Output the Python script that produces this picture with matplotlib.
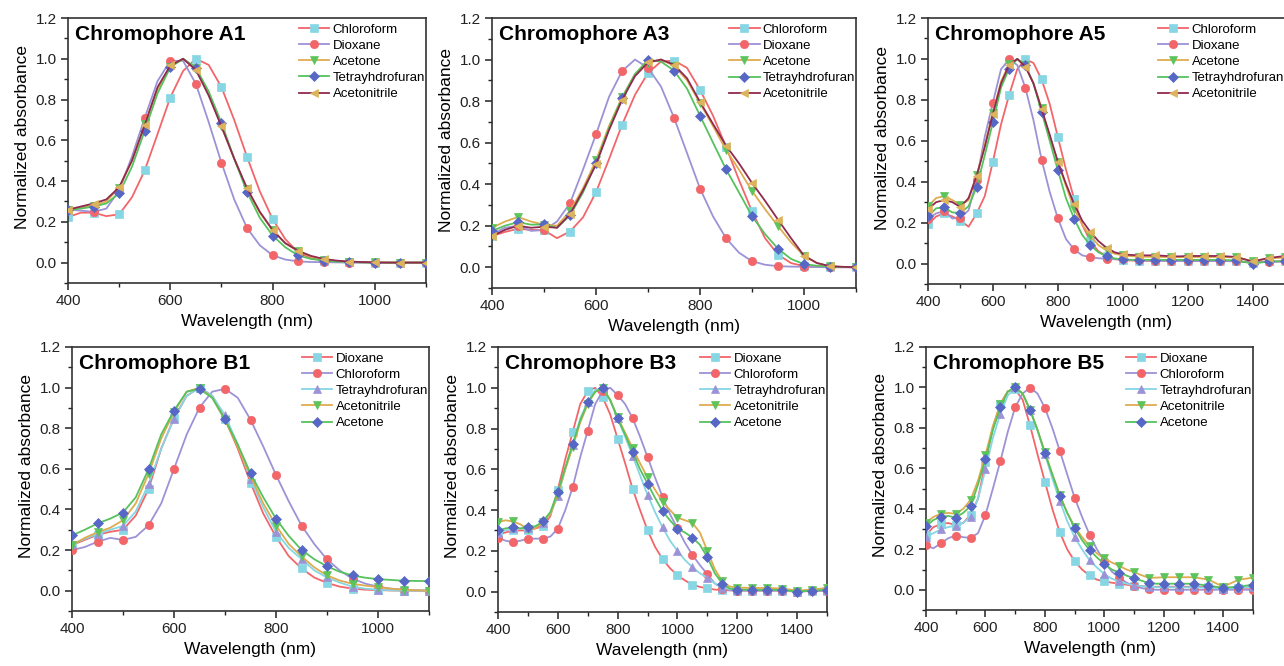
import matplotlib
matplotlib.use("Agg")
import matplotlib.pyplot as plt
from matplotlib.ticker import MultipleLocator

plt.rcParams['font.family'] = ['Liberation Sans', 'DejaVu Sans']

# ---------------- wavelength grids ----------------
wl_narrow = list(range(400, 1101, 25))                      # 29 points
wl_wide = list(range(400, 1201, 25)) + [1250, 1300, 1350, 1400, 1450, 1500]  # 39 points

# ---------------- Chromophore A1 ----------------
a1_chloroform = [0.223, 0.245, 0.245, 0.228, 0.237, 0.32, 0.452, 0.63, 0.81, 0.94, 1.0, 0.97, 0.861, 0.70,
                 0.519, 0.35, 0.214, 0.115, 0.05, 0.022, 0.01, 0.005, 0.003, 0.001, 0, 0, 0, 0, 0]
a1_dioxane = [0.26, 0.255, 0.249, 0.265, 0.355, 0.52, 0.71, 0.89, 0.99, 0.99, 0.877, 0.69, 0.49, 0.31,
              0.17, 0.085, 0.036, 0.015, 0.006, 0.003, 0.002, 0.001, 0, 0, 0, 0, 0, 0, 0]
a1_acetone = [0.26, 0.27, 0.28, 0.30, 0.368, 0.50, 0.68, 0.85, 0.96, 1.0, 0.955, 0.83, 0.67, 0.51,
              0.36, 0.245, 0.16, 0.095, 0.055, 0.03, 0.015, 0.008, 0.005, 0.002, 0.001, 0, 0, 0, 0]
a1_thf = [0.26, 0.265, 0.275, 0.29, 0.34, 0.47, 0.647, 0.83, 0.958, 1.0, 0.955, 0.84, 0.686, 0.51,
          0.347, 0.22, 0.133, 0.075, 0.035, 0.018, 0.01, 0.005, 0.003, 0.001, 0, 0, 0, 0, 0]
a1_acetonitrile = [0.26, 0.275, 0.29, 0.31, 0.37, 0.50, 0.675, 0.86, 0.967, 1.0, 0.945, 0.82, 0.668, 0.51,
                   0.365, 0.25, 0.16, 0.095, 0.058, 0.033, 0.018, 0.01, 0.005, 0.003, 0.001, 0, 0, 0, 0]

# ---------------- Chromophore A3 ----------------
a3_chloroform = [0.15, 0.17, 0.185, 0.18, 0.178, 0.14, 0.172, 0.24, 0.361, 0.52, 0.685, 0.83, 0.936, 0.99,
                 0.995, 0.96, 0.854, 0.73, 0.58, 0.42, 0.269, 0.14, 0.061, 0.02, 0.005, 0.002, 0, 0, 0]
a3_dioxane = [0.16, 0.19, 0.20, 0.175, 0.179, 0.22, 0.308, 0.47, 0.64, 0.82, 0.944, 1.0, 0.96, 0.87,
              0.72, 0.55, 0.379, 0.245, 0.14, 0.07, 0.029, 0.012, 0.005, 0.003, 0.002, 0.001, 0, 0, 0]
a3_acetone = [0.19, 0.22, 0.242, 0.22, 0.205, 0.20, 0.27, 0.38, 0.515, 0.68, 0.818, 0.93, 0.985, 1.0,
              0.97, 0.90, 0.79, 0.68, 0.565, 0.47, 0.367, 0.28, 0.198, 0.12, 0.055, 0.02, 0.005, 0.001, 0]
a3_thf = [0.175, 0.20, 0.217, 0.205, 0.206, 0.19, 0.25, 0.36, 0.50, 0.67, 0.815, 0.93, 0.999, 0.99,
          0.947, 0.86, 0.73, 0.60, 0.472, 0.36, 0.246, 0.16, 0.089, 0.04, 0.015, 0.007, 0.003, 0.001, 0]
a3_acetonitrile = [0.15, 0.18, 0.20, 0.19, 0.195, 0.19, 0.255, 0.37, 0.495, 0.66, 0.805, 0.92, 0.986, 1.0,
                   0.975, 0.91, 0.796, 0.69, 0.586, 0.50, 0.406, 0.32, 0.229, 0.14, 0.056, 0.02, 0.005, 0.002, 0]

# ---------------- Chromophore A5 ----------------
a5_chloroform = [0.191, 0.23, 0.245, 0.23, 0.21, 0.18, 0.245, 0.33, 0.498, 0.68, 0.824, 0.95, 0.999, 0.98,
                 0.90, 0.78, 0.619, 0.46, 0.317, 0.19, 0.11, 0.06, 0.035, 0.022, 0.016, 0.015, 0.013,
                 0.013, 0.013, 0.013, 0.013, 0.013, 0.013, 0.013, 0.013, 0.012, 0.005, 0.01, 0.01]
a5_dioxane = [0.22, 0.245, 0.256, 0.22, 0.225, 0.26, 0.41, 0.62, 0.787, 0.95, 0.998, 0.97, 0.859, 0.70,
              0.508, 0.35, 0.222, 0.12, 0.069, 0.04, 0.031, 0.026, 0.023, 0.021, 0.02, 0.018, 0.016,
              0.015, 0.014, 0.013, 0.012, 0.012, 0.012, 0.012, 0.012, 0.011, 0.005, 0.008, 0.01]
a5_acetone = [0.28, 0.32, 0.33, 0.31, 0.286, 0.31, 0.431, 0.58, 0.738, 0.89, 0.973, 1.0, 0.97, 0.88,
              0.76, 0.62, 0.496, 0.38, 0.268, 0.19, 0.136, 0.09, 0.064, 0.048, 0.04, 0.036, 0.034,
              0.033, 0.033, 0.032, 0.032, 0.032, 0.032, 0.032, 0.032, 0.03, 0.012, 0.025, 0.03]
a5_thf = [0.23, 0.27, 0.274, 0.25, 0.247, 0.28, 0.374, 0.53, 0.69, 0.86, 0.953, 1.0, 0.97, 0.88,
          0.741, 0.60, 0.457, 0.32, 0.22, 0.14, 0.09, 0.055, 0.036, 0.025, 0.02, 0.018, 0.018,
          0.018, 0.018, 0.018, 0.018, 0.018, 0.018, 0.018, 0.018, 0.015, 0.0, 0.01, 0.012]
a5_acetonitrile = [0.265, 0.30, 0.31, 0.30, 0.276, 0.32, 0.429, 0.57, 0.733, 0.88, 0.971, 1.0, 0.962, 0.88,
                   0.754, 0.63, 0.498, 0.39, 0.292, 0.21, 0.155, 0.11, 0.077, 0.055, 0.045, 0.042, 0.04,
                   0.04, 0.04, 0.038, 0.035, 0.035, 0.037, 0.037, 0.037, 0.032, 0.01, 0.027, 0.037]

# ---------------- Chromophore B1 ----------------
b1_dioxane = [0.225, 0.25, 0.275, 0.29, 0.30, 0.37, 0.50, 0.70, 0.85, 0.96, 1.0, 0.96, 0.845, 0.70,
              0.532, 0.38, 0.265, 0.17, 0.11, 0.065, 0.038, 0.02, 0.01, 0.005, 0.003, 0.001, 0, 0, 0]
b1_chloroform = [0.20, 0.215, 0.241, 0.26, 0.25, 0.265, 0.322, 0.43, 0.60, 0.77, 0.902, 0.98, 0.994, 0.95,
                 0.842, 0.71, 0.57, 0.44, 0.321, 0.23, 0.154, 0.10, 0.059, 0.035, 0.02, 0.01, 0.005, 0.002, 0]
b1_thf = [0.23, 0.255, 0.28, 0.30, 0.319, 0.39, 0.524, 0.70, 0.846, 0.96, 1.0, 0.96, 0.864, 0.72,
          0.55, 0.41, 0.29, 0.21, 0.156, 0.10, 0.065, 0.04, 0.02, 0.01, 0.005, 0.002, 0, 0, 0]
b1_acetonitrile = [0.225, 0.26, 0.288, 0.31, 0.347, 0.43, 0.575, 0.75, 0.88, 0.98, 1.0, 0.95, 0.84, 0.71,
                   0.565, 0.43, 0.321, 0.23, 0.169, 0.115, 0.075, 0.05, 0.034, 0.025, 0.018, 0.01, 0.005, 0.002, 0]
b1_acetone = [0.272, 0.30, 0.331, 0.355, 0.385, 0.46, 0.598, 0.77, 0.887, 0.98, 0.994, 0.95, 0.843, 0.72,
              0.578, 0.46, 0.354, 0.27, 0.201, 0.155, 0.12, 0.093, 0.075, 0.064, 0.057, 0.053, 0.049, 0.048, 0.047]

# ---------------- Chromophore B3 ----------------
b3_dioxane = [0.28, 0.29, 0.30, 0.30, 0.30, 0.31, 0.32, 0.37, 0.50, 0.65, 0.784, 0.92, 0.984, 1.0,
              0.953, 0.87, 0.75, 0.63, 0.504, 0.40, 0.301, 0.22, 0.16, 0.115, 0.08, 0.055, 0.034,
              0.023, 0.016, 0.01, 0.008, 0.006, 0.005, 0.005, 0.005, 0.005, 0.0, 0.004, 0.005]
b3_chloroform = [0.264, 0.25, 0.242, 0.25, 0.259, 0.26, 0.26, 0.27, 0.309, 0.40, 0.514, 0.66, 0.789, 0.92,
                 0.985, 1.0, 0.964, 0.92, 0.851, 0.76, 0.66, 0.56, 0.465, 0.38, 0.31, 0.24, 0.18,
                 0.13, 0.085, 0.04, 0.015, 0.007, 0.005, 0.005, 0.005, 0.005, 0.0, 0.003, 0.005]
b3_thf = [0.29, 0.30, 0.31, 0.31, 0.31, 0.32, 0.335, 0.38, 0.467, 0.60, 0.72, 0.85, 0.93, 0.99,
          1.0, 0.94, 0.85, 0.76, 0.666, 0.57, 0.475, 0.39, 0.316, 0.25, 0.20, 0.155, 0.12,
          0.09, 0.069, 0.04, 0.02, 0.012, 0.01, 0.01, 0.01, 0.008, 0.0, 0.006, 0.01]
b3_acetonitrile = [0.34, 0.35, 0.344, 0.33, 0.305, 0.31, 0.34, 0.38, 0.48, 0.60, 0.711, 0.83, 0.92, 0.98,
                   1.0, 0.94, 0.855, 0.78, 0.704, 0.63, 0.56, 0.50, 0.442, 0.40, 0.363, 0.35, 0.337,
                   0.29, 0.20, 0.11, 0.05, 0.025, 0.02, 0.018, 0.018, 0.015, 0.005, 0.01, 0.018]
b3_acetone = [0.30, 0.31, 0.316, 0.31, 0.316, 0.32, 0.345, 0.39, 0.49, 0.61, 0.725, 0.84, 0.928, 0.98,
              0.999, 0.94, 0.85, 0.77, 0.684, 0.60, 0.53, 0.46, 0.395, 0.35, 0.309, 0.29, 0.265,
              0.23, 0.169, 0.09, 0.039, 0.015, 0.01, 0.008, 0.008, 0.008, 0.0, 0.005, 0.008]

# ---------------- Chromophore B5 ----------------
b5_dioxane = [0.27, 0.31, 0.324, 0.33, 0.32, 0.33, 0.37, 0.45, 0.63, 0.80, 0.92, 0.98, 0.99, 0.94,
              0.812, 0.67, 0.534, 0.40, 0.284, 0.20, 0.141, 0.10, 0.071, 0.05, 0.041, 0.035, 0.03,
              0.025, 0.02, 0.018, 0.015, 0.015, 0.015, 0.015, 0.015, 0.013, 0.005, 0.01, 0.01]
b5_chloroform = [0.219, 0.205, 0.23, 0.255, 0.268, 0.26, 0.256, 0.28, 0.37, 0.50, 0.635, 0.78, 0.902, 0.97,
                 0.999, 0.97, 0.899, 0.80, 0.687, 0.57, 0.455, 0.36, 0.273, 0.20, 0.14, 0.09, 0.06,
                 0.035, 0.02, 0.008, 0.002, 0.0, 0.0, 0.0, 0.0, 0.0, 0.0, 0.0, 0.0]
b5_thf = [0.26, 0.28, 0.298, 0.31, 0.317, 0.33, 0.362, 0.45, 0.595, 0.75, 0.87, 0.96, 1.0, 0.97,
          0.89, 0.79, 0.67, 0.55, 0.44, 0.34, 0.26, 0.20, 0.146, 0.11, 0.077, 0.055, 0.041,
          0.03, 0.022, 0.018, 0.015, 0.013, 0.012, 0.012, 0.012, 0.01, 0.005, 0.01, 0.015]
b5_acetonitrile = [0.332, 0.36, 0.376, 0.38, 0.375, 0.40, 0.444, 0.54, 0.666, 0.81, 0.917, 0.98, 1.0, 0.97,
                   0.89, 0.79, 0.68, 0.57, 0.47, 0.38, 0.311, 0.26, 0.217, 0.18, 0.155, 0.135, 0.118,
                   0.10, 0.087, 0.072, 0.059, 0.06, 0.062, 0.062, 0.062, 0.05, 0.015, 0.049, 0.06]
b5_acetone = [0.314, 0.345, 0.36, 0.365, 0.357, 0.38, 0.414, 0.52, 0.646, 0.79, 0.901, 0.98, 1.0, 0.97,
              0.889, 0.79, 0.676, 0.57, 0.465, 0.38, 0.306, 0.245, 0.197, 0.16, 0.127, 0.10, 0.085,
              0.07, 0.056, 0.045, 0.033, 0.03, 0.03, 0.03, 0.03, 0.02, 0.01, 0.015, 0.025]

# ---------------- styles (line colour, marker, marker colour) ----------------
RED = '#f2666a'
CYAN = '#86d6e4'
PURPLE = '#9c92d6'
GOLD = '#dfab4f'
GREEN = '#56c25e'
GREEN_M = '#5cc45a'
BLUE = '#5767c6'
MAROON = '#8f2a50'
GOLD_M = '#ddb45c'

styleA = {
    'Chloroform': (RED, 's', CYAN),
    'Dioxane': (PURPLE, 'o', RED),
    'Acetone': (GOLD, 'v', GREEN_M),
    'Tetrayhdrofuran': (GREEN, 'D', BLUE),
    'Acetonitrile': (MAROON, '<', GOLD_M),
}
styleB = {
    'Dioxane': (RED, 's', CYAN),
    'Chloroform': (PURPLE, 'o', RED),
    'Tetrayhdrofuran': (CYAN, '^', PURPLE),
    'Acetonitrile': (GOLD, 'v', GREEN_M),
    'Acetone': (GREEN, 'D', BLUE),
}

W, H = 1284, 666


def box(l, r, t, b):
    return [l / W, (H - b) / H, (r - l) / W, (b - t) / H]


panels = [
    ('Chromophore A1', box(68, 426, 18, 283), wl_narrow, 1100, styleA,
     [('Chloroform', a1_chloroform), ('Dioxane', a1_dioxane), ('Acetone', a1_acetone),
      ('Tetrayhdrofuran', a1_thf), ('Acetonitrile', a1_acetonitrile)]),
    ('Chromophore A3', box(492, 856, 18, 288), wl_narrow, 1100, styleA,
     [('Chloroform', a3_chloroform), ('Dioxane', a3_dioxane), ('Acetone', a3_acetone),
      ('Tetrayhdrofuran', a3_thf), ('Acetonitrile', a3_acetonitrile)]),
    ('Chromophore A5', box(928, 1285, 18, 284), wl_wide, 1500, styleA,
     [('Chloroform', a5_chloroform), ('Dioxane', a5_dioxane), ('Acetone', a5_acetone),
      ('Tetrayhdrofuran', a5_thf), ('Acetonitrile', a5_acetonitrile)]),
    ('Chromophore B1', box(72, 429, 347, 611), wl_narrow, 1100, styleB,
     [('Dioxane', b1_dioxane), ('Chloroform', b1_chloroform), ('Tetrayhdrofuran', b1_thf),
      ('Acetonitrile', b1_acetonitrile), ('Acetone', b1_acetone)]),
    ('Chromophore B3', box(498, 827, 347, 612), wl_wide, 1500, styleB,
     [('Dioxane', b3_dioxane), ('Chloroform', b3_chloroform), ('Tetrayhdrofuran', b3_thf),
      ('Acetonitrile', b3_acetonitrile), ('Acetone', b3_acetone)]),
    ('Chromophore B5', box(926, 1253, 347, 610), wl_wide, 1500, styleB,
     [('Dioxane', b5_dioxane), ('Chloroform', b5_chloroform), ('Tetrayhdrofuran', b5_thf),
      ('Acetonitrile', b5_acetonitrile), ('Acetone', b5_acetone)]),
]

fig = plt.figure(figsize=(W / 100, H / 100), dpi=100)

for title, rect, wl, xmax, style, series in panels:
    ax = fig.add_axes(rect)
    marks = [i for i, w in enumerate(wl) if w % 50 == 0]
    for k, (name, vals) in enumerate(series):
        lc, mk, mc = style[name]
        ms = 5.2 if mk == 'D' else 6.0
        ax.plot(wl, vals, color=lc, lw=1.3, marker=mk, markersize=ms,
                markerfacecolor=mc, markeredgecolor=mc, markeredgewidth=0.5,
                markevery=marks, label=name, zorder=2 + k)
    ax.set_xlim(400, xmax)
    ax.set_ylim(-0.1, 1.2)
    ax.xaxis.set_major_locator(MultipleLocator(200))
    ax.xaxis.set_minor_locator(MultipleLocator(100))
    ax.yaxis.set_major_locator(MultipleLocator(0.2))
    ax.yaxis.set_minor_locator(MultipleLocator(0.1))
    ax.yaxis.set_major_formatter(matplotlib.ticker.FormatStrFormatter('%.1f'))
    ax.tick_params(which='major', direction='out', length=5, width=1.1, labelsize=11,
                   colors='#222222', pad=3)
    ax.tick_params(which='minor', direction='out', length=3, width=1.0, colors='#222222')
    for sp in ax.spines.values():
        sp.set_linewidth(1.2)
        sp.set_color('#333333')
    ax.set_xlabel('Wavelength (nm)', fontsize=12.5, labelpad=4)
    ax.set_ylabel('Normalized absorbance', fontsize=12.5, labelpad=4, y=0.55)
    ax.text(0.02, 0.975, title, transform=ax.transAxes, fontsize=15, fontweight='bold',
            va='top', ha='left', zorder=10)
    ax.legend(loc='upper right', bbox_to_anchor=(1.005, 0.99), frameon=False, fontsize=9.5,
              handlelength=2.3, handletextpad=0.25, labelspacing=0.3, borderaxespad=0.0,
              borderpad=0.2, numpoints=1)

fig.savefig('out.png', dpi=100)
